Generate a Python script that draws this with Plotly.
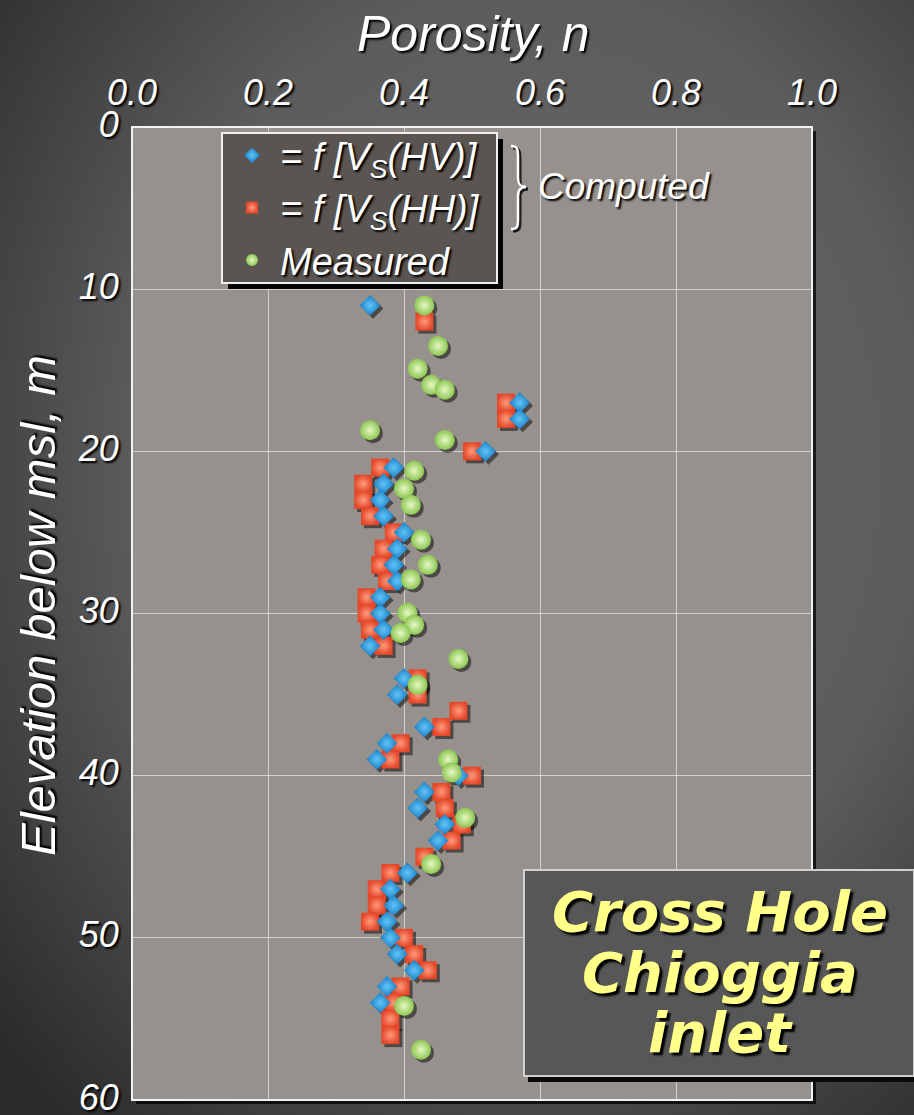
import base64
import plotly.graph_objects as go

# Porosity profiles from cross-hole tests, Chioggia inlet
hv_depth = [11, 17, 18, 20, 21, 22, 23, 24, 25, 26, 27, 28, 29, 30, 31, 32, 34, 35,
            37, 38, 39, 40, 41, 42, 43, 44, 46, 47, 48, 49, 50, 51, 52, 53, 54]
hv_n = [0.35, 0.57, 0.57, 0.52, 0.385, 0.37, 0.365, 0.37, 0.40, 0.39, 0.385, 0.39,
        0.365, 0.365, 0.37, 0.35, 0.40, 0.39, 0.43, 0.375, 0.36, 0.48, 0.43, 0.42,
        0.46, 0.45, 0.405, 0.38, 0.385, 0.375, 0.38, 0.39, 0.415, 0.375, 0.365]

hh_depth = [12, 17, 18, 20, 21, 22, 23, 24, 25, 26, 27, 28, 29, 30, 31, 32, 34, 35,
            36, 37, 38, 39, 40, 41, 42, 43, 44, 45, 46, 47, 48, 49, 50, 51, 52, 53,
            54, 55, 56]
hh_n = [0.43, 0.55, 0.55, 0.50, 0.365, 0.34, 0.34, 0.35, 0.385, 0.37, 0.365, 0.375,
        0.345, 0.345, 0.35, 0.37, 0.42, 0.42, 0.48, 0.455, 0.395, 0.38, 0.50, 0.455,
        0.46, 0.485, 0.47, 0.43, 0.38, 0.36, 0.36, 0.35, 0.40, 0.415, 0.435, 0.395,
        0.385, 0.38, 0.38]

meas_depth = [11, 13.5, 14.9, 15.9, 16.2, 18.7, 19.3, 21.2, 22.3, 23.3, 25.45, 27.0,
              27.9, 29.96, 30.7, 31.2, 32.8, 34.4, 39.0, 39.8, 42.6, 45.45, 54.2, 56.9]
meas_n = [0.43, 0.45, 0.42, 0.44, 0.46, 0.35, 0.46, 0.415, 0.40, 0.41, 0.425, 0.435,
          0.41, 0.405, 0.415, 0.395, 0.48, 0.42, 0.465, 0.47, 0.49, 0.44, 0.40, 0.425]

x_ticks = [0.0, 0.2, 0.4, 0.6, 0.8, 1.0]
x_ticktext = ["0.0", "0.2", "0.4", "0.6", "0.8", "1.0"]
y_ticks = [0, 10, 20, 30, 40, 50, 60]

W, H = 914, 1115
ML, MR, MT, MB = 132, 102, 127, 15
PW, PH = W - ML - MR, H - MT - MB

FONT = "Liberation Sans, Arial, sans-serif"
BOX_FONT = "DejaVu Sans"
SHADOW = "2px 2px 2px #000000"


def to_paper(px, py):
    return (px - ML) / PW, (H - MB - py) / PH


def path_from_pixels(cmds):
    out = []
    for cmd in cmds:
        op, pts = cmd[0], cmd[1:]
        coords = []
        for i in range(0, len(pts), 2):
            x, y = to_paper(pts[i], pts[i + 1])
            coords.append(f"{x:.5f},{y:.5f}")
        out.append(op + " " + " ".join(coords))
    return " ".join(out)


# shadow offset of a few pixels, expressed in axis units
dx = 3.0 / PW * 1.0
dy = 3.0 / PH * 60.0

fig = go.Figure()

# soft drop shadows: same data on the base axes, whose ranges are nudged
shadow_marker = dict(color="rgba(0,0,0,0.5)", line=dict(width=0))
fig.add_trace(go.Scatter(x=hh_n, y=hh_depth, mode="markers",
                         marker=dict(symbol="square", size=18, **shadow_marker),
                         showlegend=False, hoverinfo="skip"))
fig.add_trace(go.Scatter(x=hv_n, y=hv_depth, mode="markers",
                         marker=dict(symbol="diamond", size=16, **shadow_marker),
                         showlegend=False, hoverinfo="skip"))
fig.add_trace(go.Scatter(x=meas_n, y=meas_depth, mode="markers",
                         marker=dict(symbol="circle", size=20, **shadow_marker),
                         showlegend=False, hoverinfo="skip"))

# the data markers on the visible overlay axes (x2, y2), drawn above the shadows
fig.add_trace(go.Scatter(
    x=hh_n, y=hh_depth, mode="markers", legendrank=2, xaxis="x2", yaxis="y2",
    name="= <i>f</i> [V<sub>S</sub>(HH)]",
    marker=dict(symbol="square", size=18, color="#e4472a",
                gradient=dict(type="radial", color="#ff9b7c"), line=dict(width=0)),
))
fig.add_trace(go.Scatter(
    x=hv_n, y=hv_depth, mode="markers", legendrank=1, xaxis="x2", yaxis="y2",
    name="= <i>f</i> [V<sub>S</sub>(HV)]",
    marker=dict(symbol="diamond", size=16, color="#1a80c8",
                gradient=dict(type="radial", color="#62c4f6"), line=dict(width=0)),
))
fig.add_trace(go.Scatter(
    x=meas_n, y=meas_depth, mode="markers", legendrank=3, xaxis="x2", yaxis="y2",
    name="Measured",
    marker=dict(symbol="circle", size=20, color="#8cc652",
                gradient=dict(type="radial", color="#e6f8c4"), line=dict(width=0)),
))

# page background: broad radial gradient
svg = f"""<svg xmlns='http://www.w3.org/2000/svg' width='{W}' height='{H}' viewBox='0 0 {W} {H}' preserveAspectRatio='none'>
<defs><radialGradient id='g' cx='0.58' cy='0.42' r='0.78'>
<stop offset='0' stop-color='#6b6b6b'/><stop offset='0.55' stop-color='#5c5c5c'/>
<stop offset='1' stop-color='#2a2a2a'/></radialGradient></defs>
<rect width='{W}' height='{H}' fill='url(#g)'/></svg>"""
bg_src = "data:image/svg+xml;base64," + base64.b64encode(svg.encode()).decode()
x0p, y0p = to_paper(0, 0)


def rect_px(x0, y0, x1, y1, **kw):
    a, b = to_paper(x0, y0)
    c, d = to_paper(x1, y1)
    return dict(type="rect", xref="paper", yref="paper", x0=a, x1=c, y0=d, y1=b, **kw)


shapes = []
# plot area shadow, fill and white frame
sx, sy = 4 / PW, 4 / PH
shapes.append(dict(type="rect", xref="paper", yref="paper", x0=sx, x1=1 + sx,
                   y0=-sy, y1=1 - sy, fillcolor="rgba(0,0,0,0.75)",
                   line=dict(width=0), layer="below"))
shapes.append(dict(type="rect", xref="paper", yref="paper", x0=0, x1=1, y0=0, y1=1,
                   fillcolor="#96918d", line=dict(width=0), layer="below"))
shapes.append(dict(type="rect", xref="paper", yref="paper", x0=0, x1=1, y0=0, y1=1,
                   fillcolor="rgba(0,0,0,0)", line=dict(color="#f2f2f2", width=2),
                   layer="above"))

# legend panel with its shadow
shapes.append(rect_px(228, 139, 503, 289, fillcolor="#050505", line=dict(width=0),
                      layer="above"))
shapes.append(rect_px(222, 133, 497, 283, fillcolor="#5a5551",
                      line=dict(color="#f0f0f0", width=2), layer="above"))

# brace next to the computed entries
brace = [("M", 511, 146), ("C", 518, 146, 518, 150, 518, 158), ("L", 518, 178),
         ("C", 518, 184, 520, 187, 526, 187), ("C", 520, 187, 518, 190, 518, 196),
         ("L", 518, 218), ("C", 518, 226, 518, 229, 511, 229)]
brace_shadow = [(c[0],) + tuple(v + 2 for v in c[1:]) for c in brace]
shapes.append(dict(type="path", xref="paper", yref="paper",
                   path=path_from_pixels(brace_shadow),
                   line=dict(color="rgba(0,0,0,0.8)", width=3), layer="above"))
shapes.append(dict(type="path", xref="paper", yref="paper", path=path_from_pixels(brace),
                   line=dict(color="#ffffff", width=2.5), layer="above"))

# title box in the lower right
shapes.append(rect_px(528, 876, 914, 1082, fillcolor="#0a0a0a", line=dict(width=0),
                      layer="above"))
shapes.append(rect_px(524, 870, 914, 1076, fillcolor="#575757",
                      line=dict(color="#d0d0d0", width=2), layer="above"))

annotations = []
tx, ty = to_paper(473, 34)
annotations.append(dict(text="Porosity, n", xref="paper", yref="paper", x=tx, y=ty,
                        xanchor="center", yanchor="middle", showarrow=False,
                        font=dict(family=FONT, size=50, color="white", style="italic",
                                  shadow=SHADOW)))
ax_, ay_ = to_paper(38, 606)
annotations.append(dict(text="Elevation below msl, m", xref="paper", yref="paper",
                        x=ax_, y=ay_, xanchor="center", yanchor="middle",
                        textangle=-90, showarrow=False,
                        font=dict(family=FONT, size=49, color="white", style="italic",
                                  shadow=SHADOW)))
cx_, cy_ = to_paper(536, 186)
annotations.append(dict(text="Computed", xref="paper", yref="paper", x=cx_, y=cy_,
                        xanchor="left", yanchor="middle", showarrow=False,
                        font=dict(family=FONT, size=37, color="white", style="italic",
                                  shadow=SHADOW)))
for line, py in [("Cross Hole", 911), ("Chioggia", 972), ("inlet", 1032)]:
    px_, py_ = to_paper(720, py)
    annotations.append(dict(text=line, xref="paper", yref="paper", x=px_, y=py_,
                            xanchor="center", yanchor="middle", showarrow=False,
                            font=dict(family=BOX_FONT, size=56, color="#ffff8a",
                                      weight="bold", style="italic",
                                      shadow="3px 3px 2px #000000")))

legx, legy = to_paper(224, 124)

axis_font = dict(family=FONT, size=36, color="white", style="italic", shadow=SHADOW)
grid = dict(showgrid=True, gridcolor="rgba(235,235,235,0.7)", gridwidth=1.2,
            zeroline=False, showline=False, ticks="outside", automargin=False,
            tickcolor="rgba(0,0,0,0)", tickfont=axis_font, ticklabeloverflow="allow")

fig.update_layout(
    width=W, height=H, autosize=False,
    margin=dict(l=ML, r=MR, t=MT, b=MB, pad=0),
    paper_bgcolor="#4a4a4a",
    plot_bgcolor="rgba(0,0,0,0)",
    images=[dict(source=bg_src, xref="paper", yref="paper", x=x0p, y=y0p,
                 sizex=W / PW, sizey=H / PH, xanchor="left", yanchor="top",
                 sizing="stretch", layer="below")],
    xaxis=dict(range=[0 - dx, 1 - dx], showticklabels=False, showgrid=False,
               zeroline=False, showline=False, ticks="", automargin=False),
    yaxis=dict(range=[60 - dy, 0 - dy], showticklabels=False, showgrid=False,
               zeroline=False, showline=False, ticks="", automargin=False),
    xaxis2=dict(range=[0, 1], overlaying="x", side="top", tickvals=x_ticks,
                ticktext=x_ticktext, ticklen=7, **grid),
    yaxis2=dict(range=[60, 0], overlaying="y", side="left", tickvals=y_ticks,
                ticklen=5, ticklabelshift=3, **grid),
    showlegend=True,
    legend=dict(x=legx, y=legy, xanchor="left", yanchor="top",
                bgcolor="rgba(0,0,0,0)", borderwidth=0,
                itemsizing="constant", itemwidth=46,
                font=dict(family=FONT, size=38, color="white", style="italic",
                          shadow=SHADOW)),
    shapes=shapes,
    annotations=annotations,
)

fig.write_html("out.html")
